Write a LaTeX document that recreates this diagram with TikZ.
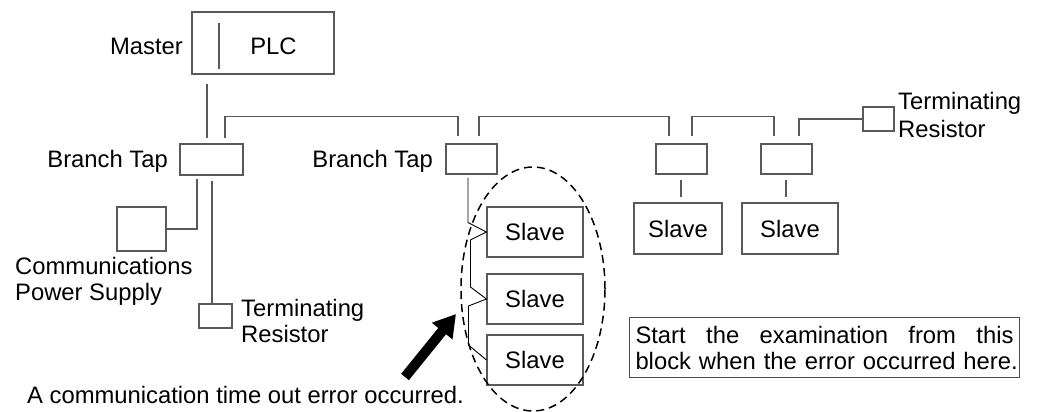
\documentclass[tikz,border=0pt]{standalone}
\usepackage{fontspec}
\setmainfont{Liberation Sans}
\usetikzlibrary{arrows.meta,shapes.geometric}
\begin{document}
\begin{tikzpicture}[x=1pt,y=-1pt,
  every node/.style={font=\fontsize{23.8}{26}\selectfont, inner sep=0pt},
  box/.style={draw=black!65, line width=1.1pt, rectangle, inner sep=0pt},
  conn/.style={draw=black!65, line width=1.1pt},
  zig/.style={draw=black, line width=0.9pt, line join=miter},
  lbl/.style={anchor=base west},
  lblr/.style={anchor=base east}]
\useasboundingbox (0,0) rectangle (1039,412);

% master
\node[box, minimum width=142, minimum height=62] (plc) at (263,43) {};
\draw[conn] ([xshift=-44pt,yshift=-12pt]plc.north) -- ([xshift=-44pt,yshift=6pt]plc.south);
\node[anchor=base] (plctxt) at (273.5,55) {PLC};
\node[lblr] (master) at (183,55) {Master};

% branch taps and small boxes
\node[box, minimum width=63, minimum height=31] (bt1) at (211.5,159.5) {};
\node[box, minimum width=51, minimum height=30] (bt2) at (471.5,159) {};
\node[box, minimum width=51, minimum height=30] (bt3) at (681.5,159) {};
\node[box, minimum width=51, minimum height=30] (bt4) at (786.5,159) {};
\node[box, minimum width=31, minimum height=24] (trR) at (878.5,119) {};
\node[box, minimum width=33, minimum height=24] (trL) at (215.5,316) {};
\node[box, minimum width=49, minimum height=44] (ps) at (141.5,229) {};

% slaves
\node[box, minimum width=88, minimum height=51] (slA) at (678,228.5) {Slave};
\node[box, minimum width=96, minimum height=51] (slB) at (790,228.5) {Slave};
\node[box, minimum width=96, minimum height=50] (sl1) at (535,232) {Slave};
\node[box, minimum width=96, minimum height=50] (sl2) at (535,299) {Slave};
\node[box, minimum width=96, minimum height=50] (sl3) at (535,360) {Slave};

% labels
\node[lblr] (bt1lbl) at (168,167) {Branch Tap};
\node[lblr] (bt2lbl) at (433,167) {Branch Tap};
\node[lbl] (trRa) at (898,110) {Terminating};
\node[lbl] (trRb) at (898,137) {Resistor};
\node[lbl] (trLa) at (241,316) {Terminating};
\node[lbl] (trLb) at (241,342) {Resistor};
\node[lbl] (psa) at (15,274) {Communications};
\node[lbl] (psb) at (15,300) {Power Supply};
\node[lbl] (err) at (27,403) {A communication time out error occurred.};

% connectors
\draw[conn] ([xshift=-4.5pt,yshift=-9pt]plc.south -| bt1.north) -- ([xshift=-4.5pt,yshift=5pt]bt1.north);
\draw[conn] ([xshift=13.5pt,yshift=5pt]bt1.north) -- ++(0,-22) -| ([xshift=-13.5pt,yshift=7pt]bt2.north);
\draw[conn] ([xshift=7.5pt,yshift=7pt]bt2.north) -- ++(0,-20) -| ([xshift=-12.5pt,yshift=7pt]bt3.north);
\draw[conn] ([xshift=10.5pt,yshift=7pt]bt3.north) -- ++(0,-20) -| ([xshift=-12.5pt,yshift=7pt]bt4.north);
\draw[conn] ([xshift=12.5pt,yshift=7pt]bt4.north) |- (trR.west);
\draw[conn] ([xshift=-14.5pt,yshift=-3pt]bt1.south) |- (ps.east);
\draw[conn] ([xshift=0.5pt,yshift=-5pt]bt1.south) -- ([xshift=-3.5pt]trL.north);
\draw[conn] ([xshift=-0.5pt,yshift=-5pt]bt3.south) -- ([xshift=3pt,yshift=5pt]slA.north);
\draw[conn] ([xshift=-0.5pt,yshift=-5pt]bt4.south) -- ([xshift=-4pt,yshift=5pt]slB.north);
\draw[zig] ([xshift=-3.5pt,yshift=-3pt]bt2.south) -- ++(0,45) -- (sl1.west) -- ++(-16,8) -- ++(0,47)
   -- (sl2.west) -- ++(-18,7) -- ++(0,39) -- (sl3.west);

% group ellipse and arrow
\node[draw=black, dash pattern=on 8pt off 5pt, line width=1.5pt, ellipse, minimum width=144, minimum height=244] (grp) at (533,289) {};
\coordinate (atail) at (405,377);
\coordinate (atip) at (456,314);
\draw[line width=10pt, -{Triangle[length=22pt,width=25pt]}] (atail) -- (atip);

% note
\node[draw=black!70, line width=1pt, text width=378pt, align=left, inner xsep=6pt, minimum height=60pt, anchor=north east] (note) at (1020,317)
  {\makebox[378pt][l]{Start\hfill the\hfill examination\hfill from\hfill this}\\\makebox[378pt][l]{block when the error occurred here.}};
\end{tikzpicture}
\end{document}
